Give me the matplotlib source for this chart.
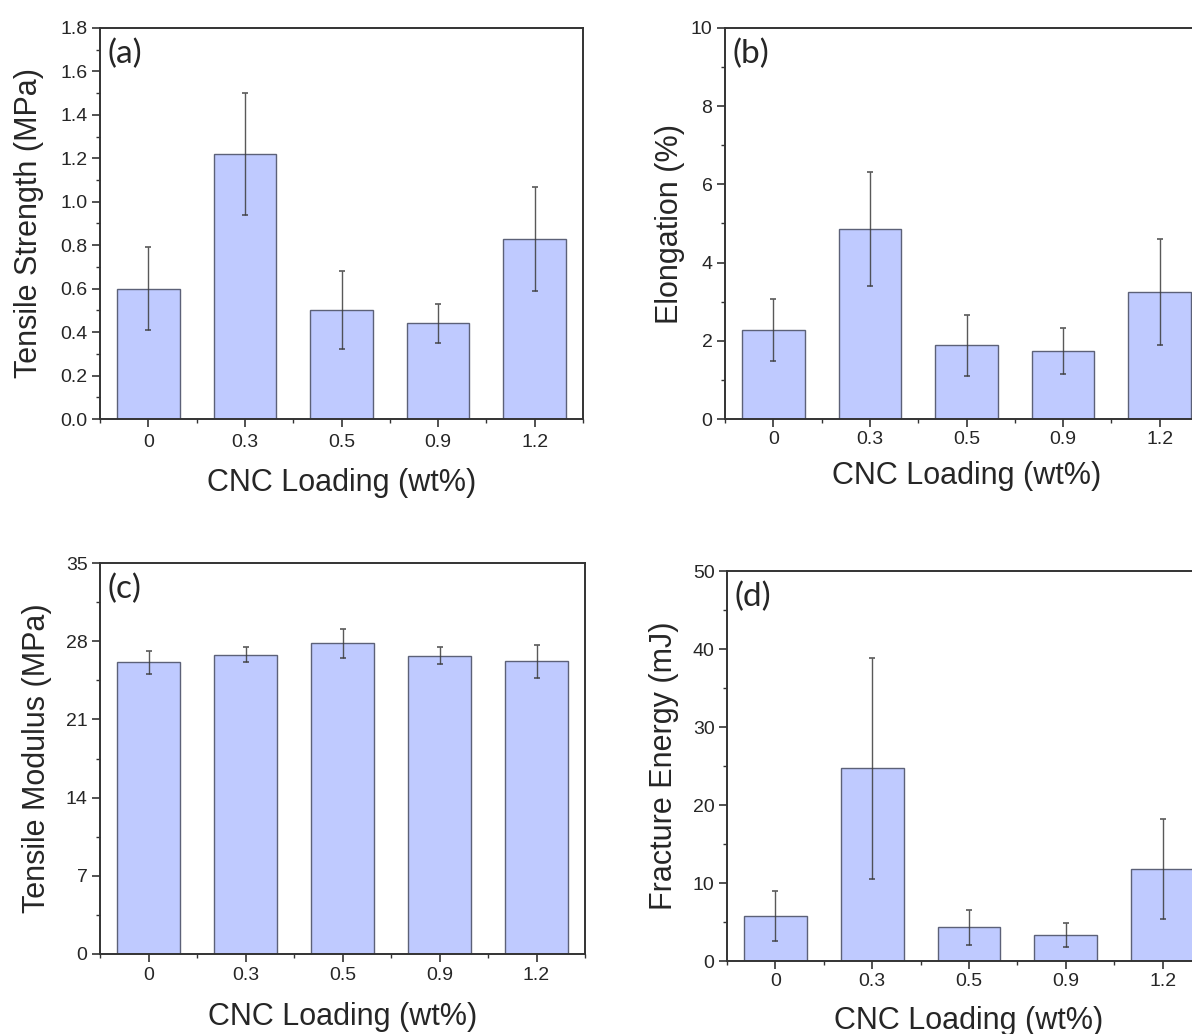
import numpy as np
import matplotlib
matplotlib.use('Agg')
import matplotlib.pyplot as plt
from matplotlib.ticker import MultipleLocator, FixedLocator, FormatStrFormatter


# CNC loading categories
loading = ['0', '0.3', '0.5', '0.9', '1.2']

# (a) Tensile strength
strength = [0.60, 1.22, 0.50, 0.44, 0.83]
strength_err = [0.19, 0.28, 0.18, 0.09, 0.24]

# (b) Elongation
elongation = [2.28, 4.86, 1.88, 1.74, 3.25]
elongation_err = [0.80, 1.46, 0.78, 0.60, 1.36]

# (c) Tensile modulus
modulus = [26.1, 26.8, 27.8, 26.7, 26.2]
modulus_err = [1.05, 0.70, 1.30, 0.75, 1.50]

# (d) Fracture energy
energy = [5.8, 24.7, 4.3, 3.3, 11.8]
energy_err = [3.2, 14.2, 2.3, 1.55, 6.4]


plt.rcParams['font.family'] = ['Liberation Sans', 'DejaVu Sans']
text_col = '#262626'
bar_col = '#bfcaff'
edge_col = '#5c6178'

fig = plt.figure(figsize=(11.92, 10.34), dpi=100)
W, H = 1192, 1034


def px_axes(left, top, right, bottom):
    return fig.add_axes([left / W, 1 - bottom / H, (right - left) / W, (bottom - top) / H])


# axes, values, errors, ylabel, ymax, step, tag, format, tick pad, xlabel pad, ylabel pad
panels = [
    (px_axes(100, 28, 583, 419), strength, strength_err, 'Tensile Strength (MPa)', 1.8, 0.2, '(a)', '%.1f', 5, 12, 12),
    (px_axes(725, 28, 1208, 419), elongation, elongation_err, 'Elongation (%)', 10, 2, '(b)', '%d', 3, 9, 4),
    (px_axes(100, 563, 585, 954), modulus, modulus_err, 'Tensile Modulus (MPa)', 35, 7, '(c)', '%d', 3, 13, 10),
    (px_axes(727, 571, 1211, 961), energy, energy_err, 'Fracture Energy (mJ)', 50, 10, '(d)', '%d', 3, 11, 10),
]

for ax, vals, errs, ylab, ymax, step, tag, fmt, tpad, xpad, ypad in panels:
    x = np.arange(len(loading))
    ax.bar(x, vals, width=0.65, color=bar_col, edgecolor=edge_col, linewidth=1.0, zorder=2)
    ax.errorbar(x, vals, yerr=errs, fmt='none', ecolor='#3c3c3c', elinewidth=1.0,
                capsize=2.5, capthick=1.2, alpha=0.85, zorder=3)

    ax.set_xlim(-0.5, 4.5)
    ax.set_ylim(0, ymax)
    ax.set_xticks(x)
    ax.set_xticklabels(loading)
    ax.xaxis.set_minor_locator(FixedLocator(np.arange(-0.5, 5, 1)))
    ax.yaxis.set_major_locator(MultipleLocator(step))
    ax.yaxis.set_minor_locator(MultipleLocator(step / 2))
    ax.yaxis.set_major_formatter(FormatStrFormatter(fmt))

    ax.tick_params(which='major', direction='out', length=6, width=1.2, colors='#333333',
                   labelsize=14, labelcolor=text_col)
    ax.tick_params(which='minor', direction='out', length=3, width=1.0, colors='#333333')
    ax.tick_params(axis='x', which='major', pad=tpad)
    ax.tick_params(axis='y', which='major', pad=3)
    for sp in ax.spines.values():
        sp.set_color('#333333')
        sp.set_linewidth(1.4)

    ax.set_xlabel('CNC Loading (wt%)', fontsize=22, color=text_col, labelpad=xpad)
    ax.set_ylabel(ylab, fontsize=22, color=text_col, labelpad=ypad)
    ax.text(0.015, 0.972, tag, transform=ax.transAxes, fontsize=24, color=text_col,
            va='top', ha='left', family=['Lato', 'DejaVu Sans'])

fig.savefig('out.png', dpi=100)
